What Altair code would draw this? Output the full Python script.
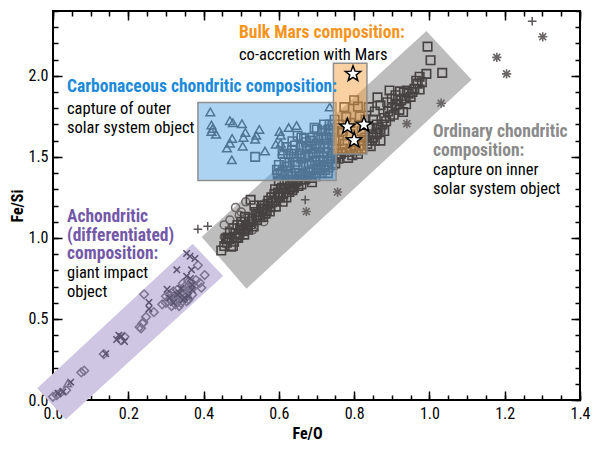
import math
import numpy as np
import pandas as pd
import altair as alt

FONT = "Liberation Sans Narrow, Arial Narrow, Roboto Condensed, DejaVu Sans Condensed, Liberation Sans, sans-serif"

# ---------------- data (Fe/O, Fe/Si) ----------------
ordinary_squares = [
    (0.447, 0.922), (0.473, 0.946), (0.460, 0.994), (0.481, 0.976), (0.488, 1.006), (0.470, 1.030),
    (0.495, 1.020), (0.500, 1.050), (0.506, 1.042), (0.480, 1.060), (0.515, 1.070), (0.520, 1.100),
    (0.525, 1.084), (0.530, 1.120), (0.500, 1.100), (0.510, 1.130), (0.540, 1.140), (0.551, 1.127),
    (0.545, 1.160), (0.560, 1.180), (0.525, 1.235), (0.535, 1.200), (0.490, 1.080), (0.465, 1.000),
    (0.576, 1.163), (0.592, 1.193), (0.610, 1.223), (0.636, 1.295), (0.644, 1.343), (0.688, 1.343),
    (0.628, 1.283), (0.570, 1.210), (0.580, 1.250), (0.600, 1.260), (0.620, 1.250), (0.605, 1.300),
    (0.590, 1.300), (0.565, 1.150), (0.555, 1.200), (0.640, 1.310), (0.660, 1.330), (0.670, 1.360),
    (0.655, 1.380), (0.630, 1.350), (0.615, 1.330), (0.600, 1.350), (0.680, 1.380), (0.700, 1.400),
    (0.710, 1.420), (0.645, 1.400), (0.625, 1.395),
    (0.455, 0.950), (0.462, 0.970), (0.468, 0.990), (0.475, 1.000), (0.478, 0.950), (0.485, 1.030),
    (0.492, 1.000), (0.497, 1.060), (0.503, 1.080), (0.508, 1.020), (0.512, 1.060), (0.518, 1.050),
    (0.522, 1.120), (0.528, 1.100), (0.533, 1.070), (0.538, 1.160), (0.542, 1.110), (0.548, 1.140),
    (0.553, 1.180), (0.558, 1.130), (0.563, 1.200), (0.568, 1.170), (0.572, 1.230), (0.578, 1.190),
    (0.583, 1.220), (0.588, 1.270), (0.593, 1.230), (0.597, 1.280), (0.603, 1.250), (0.608, 1.310),
    (0.612, 1.270), (0.618, 1.300), (0.623, 1.330), (0.627, 1.300), (0.633, 1.320), (0.638, 1.360),
    (0.648, 1.350), (0.652, 1.320), (0.658, 1.360), (0.663, 1.390), (0.672, 1.380), (0.678, 1.410),
    (0.685, 1.370), (0.692, 1.420), (0.697, 1.380), (0.703, 1.430), (0.712, 1.450), (0.717, 1.470),
    (0.723, 1.420), (0.728, 1.470), (0.738, 1.490), (0.742, 1.450), (0.752, 1.500),
    (0.636, 1.596), (0.643, 1.570), (0.610, 1.518), (0.628, 1.464), (0.605, 1.398), (0.654, 1.398),
    (0.683, 1.404), (0.696, 1.476), (0.670, 1.506), (0.706, 1.524), (0.719, 1.608), (0.732, 1.669),
    (0.748, 1.729), (0.701, 1.669), (0.667, 1.614), (0.683, 1.566), (0.722, 1.554), (0.740, 1.506),
    (0.597, 1.390), (0.636, 1.380), (0.732, 1.434), (0.714, 1.400), (0.650, 1.450), (0.660, 1.490),
    (0.680, 1.460), (0.690, 1.520), (0.700, 1.580), (0.710, 1.480), (0.720, 1.500), (0.730, 1.580),
    (0.740, 1.620), (0.745, 1.660), (0.735, 1.700), (0.690, 1.620), (0.675, 1.550), (0.660, 1.560),
    (0.640, 1.500), (0.620, 1.440), (0.600, 1.450), (0.650, 1.630), (0.720, 1.440), (0.750, 1.460),
    (0.730, 1.400), (0.705, 1.450), (0.537, 1.500),
    (0.615, 1.470), (0.625, 1.520), (0.635, 1.540), (0.645, 1.470), (0.655, 1.520), (0.665, 1.450),
    (0.672, 1.590), (0.678, 1.500), (0.685, 1.600), (0.695, 1.550), (0.705, 1.620), (0.710, 1.560),
    (0.715, 1.660), (0.725, 1.620), (0.728, 1.530), (0.735, 1.640), (0.742, 1.570), (0.748, 1.600),
    (0.695, 1.680), (0.720, 1.700), (0.660, 1.620), (0.620, 1.560), (0.595, 1.420), (0.610, 1.410),
    (0.774, 1.807), (0.800, 1.849), (0.779, 1.747), (0.815, 1.750), (0.810, 1.810), (0.770, 1.660),
    (0.760, 1.600), (0.790, 1.640), (0.820, 1.660), (0.770, 1.550), (0.758, 1.488), (0.784, 1.494),
    (0.810, 1.518), (0.800, 1.570), (0.825, 1.600), (0.760, 1.700), (0.790, 1.710), (0.830, 1.730),
    (0.755, 1.520), (0.775, 1.580), (0.765, 1.520), (0.780, 1.530), (0.790, 1.550), (0.795, 1.510),
    (0.805, 1.540), (0.815, 1.570), (0.820, 1.550),
    (0.844, 1.566), (0.870, 1.669), (0.839, 1.807), (0.862, 1.867), (0.870, 1.819), (0.888, 1.837),
    (0.894, 1.910), (0.914, 1.825), (0.938, 1.825), (0.930, 1.777), (0.917, 1.855), (0.932, 1.898),
    (0.940, 1.910), (0.922, 1.904), (0.969, 1.952), (0.974, 1.994), (0.974, 1.916), (0.992, 2.012),
    (1.034, 2.018), (1.003, 2.096), (0.995, 2.180), (0.850, 1.620), (0.860, 1.700), (0.850, 1.730),
    (0.840, 1.680), (0.880, 1.740), (0.890, 1.780), (0.870, 1.600), (0.855, 1.780), (0.900, 1.860),
    (0.950, 1.870), (0.960, 1.920), (0.910, 1.880), (0.860, 1.650), (0.845, 1.640), (0.835, 1.580),
    (0.830, 1.620), (0.840, 1.600), (0.855, 1.600), (0.860, 1.640), (0.865, 1.680), (0.875, 1.700),
    (0.880, 1.660), (0.885, 1.720), (0.895, 1.750), (0.900, 1.800), (0.905, 1.760), (0.910, 1.820),
    (0.920, 1.790), (0.925, 1.850), (0.935, 1.860), (0.945, 1.890), (0.955, 1.900), (0.965, 1.970),
    (0.980, 1.960),
]
ordinary_circles = [
    (0.485, 1.187), (0.512, 1.223), (0.500, 1.160), (0.470, 1.110), (0.455, 1.080), (0.455, 1.006),
    (0.530, 1.050), (0.560, 1.100), (0.495, 1.140),
]
carbonaceous_triangles = [
    (0.418, 1.777), (0.421, 1.697), (0.424, 1.675), (0.421, 1.657), (0.433, 1.639), (0.470, 1.723),
    (0.478, 1.711), (0.502, 1.705), (0.511, 1.651), (0.506, 1.620), (0.548, 1.669), (0.540, 1.633),
    (0.537, 1.608), (0.476, 1.614), (0.470, 1.584), (0.462, 1.554), (0.504, 1.566), (0.475, 1.482),
    (0.563, 1.536), (0.602, 1.657), (0.605, 1.633), (0.626, 1.681), (0.647, 1.693), (0.592, 1.578),
    (0.605, 1.584), (0.735, 1.807), (0.610, 1.536),
]
achondrite_crosses = [
    (0.355, 0.904), (0.364, 0.887), (0.377, 0.873), (0.368, 0.803), (0.355, 0.764), (0.329, 0.803),
    (0.303, 0.683), (0.255, 0.602), (0.255, 0.562), (0.169, 0.373), (0.182, 0.392), (0.190, 0.361),
    (0.175, 0.400), (0.047, 0.110), (0.013, 0.042), (0.026, 0.050), (0.330, 0.650), (0.345, 0.620),
    (0.360, 0.640), (0.320, 0.600), (0.370, 0.680), (0.340, 0.690), (0.365, 0.750), (0.140, 0.285),
    (0.335, 0.660), (0.350, 0.630), (0.310, 0.630), (0.370, 0.710),
]
achondrite_diamonds = [
    (0.385, 0.831), (0.403, 0.771), (0.390, 0.723), (0.394, 0.693), (0.242, 0.652), (0.247, 0.512),
    (0.268, 0.542), (0.238, 0.472), (0.234, 0.442), (0.135, 0.283), (0.083, 0.181), (0.075, 0.170),
    (0.000, 0.020), (0.010, 0.030), (0.020, 0.045), (0.035, 0.060), (0.310, 0.620), (0.320, 0.640),
    (0.330, 0.600), (0.340, 0.630), (0.350, 0.660), (0.360, 0.700), (0.370, 0.720), (0.300, 0.600),
    (0.315, 0.580), (0.335, 0.580), (0.355, 0.610), (0.350, 0.700), (0.320, 0.670), (0.290, 0.590),
    (0.300, 0.640), (0.360, 0.620), (0.345, 0.720), (0.180, 0.370), (0.190, 0.390), (0.230, 0.450),
    (0.240, 0.480), (0.305, 0.610), (0.310, 0.650), (0.325, 0.620), (0.330, 0.680), (0.340, 0.600),
    (0.345, 0.650), (0.355, 0.640), (0.360, 0.670), (0.365, 0.690), (0.370, 0.650), (0.375, 0.700),
    (0.315, 0.660), (0.325, 0.590), (0.350, 0.680), (0.380, 0.740), (0.360, 0.730),
]
achondrite_triangles = [(0.039, 0.102)]
plus_points = [(0.385, 1.054), (0.411, 1.072), (0.468, 1.066), (0.670, 1.235), (1.273, 2.337)]
asterisk_points = [(0.756, 1.283), (0.673, 1.163), (0.940, 1.705), (1.031, 1.831), (1.179, 2.114),
                   (1.205, 2.012), (1.301, 2.241)]
mars_stars = [(0.797, 2.012), (0.782, 1.687), (0.826, 1.699), (0.800, 1.602)]

# composition regions
carb_box_x = [0.385, 0.752]
carb_box_y = [1.355, 1.835]
mars_box_x = [0.745, 0.834]
mars_box_y = [1.518, 2.078]
ordinary_corners = [(0.395, 1.006), (0.992, 2.277), (1.112, 1.976), (0.514, 0.687)]   # left, top, right, bottom
achondrite_corners = [(-0.042, 0.072), (0.371, 0.964), (0.452, 0.765), (0.034, -0.120)]

# axis ticks
x_major = [0.0, 0.2, 0.4, 0.6, 0.8, 1.0, 1.2, 1.4]
y_major = [0.0, 0.5, 1.0, 1.5, 2.0]
x_minor = [round(i * 0.05, 2) for i in range(29)]
y_minor = [round(i * 0.1, 1) for i in range(25)]

# annotation text
mars_head = ["Bulk Mars composition:"]
mars_body = ["co-accretion with Mars"]
carb_head = ["Carbonaceous chondritic composition:"]
carb_body = ["capture of outer", "solar system object"]
ord_head = ["Ordinary chondritic", "composition:"]
ord_body = ["capture on inner", "solar system object"]
ach_head = ["Achondritic", "(differentiated)", "composition:"]
ach_body = ["giant impact", "object"]

# ---------------- helpers ----------------
XS = alt.Scale(domain=[0, 1.4], nice=False, zero=False)
YS = alt.Scale(domain=[0, 2.4], nice=False, zero=False)


def df(pairs):
    return pd.DataFrame(pairs, columns=["x", "y"])


def enc(xaxis=None, yaxis=None):
    return dict(x=alt.X("x:Q", scale=XS, axis=xaxis), y=alt.Y("y:Q", scale=YS, axis=yaxis))


def polygon_df(corners):
    left, top, right, bottom = corners
    xs = sorted({left[0], top[0], right[0], bottom[0]})
    up_x = [left[0], top[0], right[0]]
    up_y = [left[1], top[1], right[1]]
    lo_x = [left[0], bottom[0], right[0]]
    lo_y = [left[1], bottom[1], right[1]]
    return pd.DataFrame({"x": xs,
                         "lo": np.interp(xs, lo_x, lo_y),
                         "hi": np.interp(xs, up_x, up_y)})


def area(corners, color, opacity=1.0):
    return alt.Chart(polygon_df(corners)).mark_area(color=color, opacity=opacity, clip=False).encode(
        x=alt.X("x:Q", scale=XS, axis=None),
        y=alt.Y("lo:Q", scale=YS, axis=None),
        y2="hi:Q",
    )


def box(bx, by, fill, opacity):
    d = pd.DataFrame({"x": [bx[0]], "x2": [bx[1]], "y": [by[0]], "y2": [by[1]]})
    return alt.Chart(d).mark_rect(fill=fill, fillOpacity=opacity, stroke="#8f8f8f", strokeWidth=1.5).encode(
        x=alt.X("x:Q", scale=XS, axis=None), x2="x2:Q",
        y=alt.Y("y:Q", scale=YS, axis=None), y2="y2:Q",
    )


def symbols(pairs, shape, color, size, sw=1.5):
    return alt.Chart(df(pairs)).mark_point(shape=shape, filled=False, color=color, size=size,
                                           strokeWidth=sw, opacity=1, clip=False).encode(**enc())


star_pts = []
for i in range(10):
    r = 1.0 if i % 2 == 0 else 0.42
    a = -math.pi / 2 + i * math.pi / 5
    star_pts.append(f"{r * math.cos(a):.3f},{r * math.sin(a):.3f}")
STAR = "M" + "L".join(star_pts) + "Z"
PLUS = "M-1,0L1,0M0,-1L0,1"
XMARK = "M-0.8,-0.8L0.8,0.8M-0.8,0.8L0.8,-0.8"
ASTER = "M-1,0L1,0M0,-1L0,1M-0.75,-0.75L0.75,0.75M-0.75,0.75L0.75,-0.75"

one = pd.DataFrame({"k": [0]})


def text(lines, px, py, color, bold):
    return alt.Chart(one).mark_text(text=lines, align="left", baseline="alphabetic", font=FONT,
                                    fontSize=17.5 if bold else 16.5,
                                    fontWeight="bold" if bold else "normal",
                                    color=color, lineHeight=18.5).encode(x=alt.value(px), y=alt.value(py))


common = dict(domain=False, grid=False, tickColor="black", tickWidth=1.5, labelFont=FONT,
              labelFontSize=16, labelColor="black", titleFont=FONT, titleFontSize=16,
              titleFontWeight="bold", titleColor="black")

ax_bottom = alt.Axis(orient="bottom", values=x_major, format=".1f", tickSize=9, offset=-9,
                     labelPadding=5, labelFlush=False, title="Fe/O", titlePadding=4, titleX=254, **common)
ax_left = alt.Axis(orient="left", values=y_major, format=".1f", tickSize=9, offset=-9,
                   labelPadding=5, title="Fe/Si", titlePadding=2, **common)
ax_bottom_minor = alt.Axis(orient="bottom", values=x_minor, tickSize=5, offset=-5, labels=False, title=None, **common)
ax_left_minor = alt.Axis(orient="left", values=y_minor, tickSize=5, offset=-5, labels=False, title=None, **common)
ax_top = alt.Axis(orient="top", values=x_major, tickSize=9, offset=-9, labels=False, title=None, **common)
ax_right = alt.Axis(orient="right", values=y_major, tickSize=9, offset=-9, labels=False, title=None, **common)
ax_top_minor = alt.Axis(orient="top", values=x_minor, tickSize=5, offset=-5, labels=False, title=None, **common)
ax_right_minor = alt.Axis(orient="right", values=y_minor, tickSize=5, offset=-5, labels=False, title=None, **common)


def axis_layer(xa, ya):
    return alt.Chart(df(mars_stars)).mark_point(opacity=0).encode(**enc(xa, ya))


DARK = "#474242"
MID = "#6a6464"
ACH = "#5a536e"
ACH_L = "#7a7390"

layers = [
    area(ordinary_corners, "#bdbdbd"),
    area(achondrite_corners, "#cfc6e4"),
    symbols(achondrite_diamonds, "diamond", ACH_L, 75),
    symbols(achondrite_crosses, XMARK, ACH, 65),
    symbols(achondrite_triangles, "triangle-up", ACH_L, 60),
    symbols(ordinary_circles, "circle", MID, 65),
    symbols(ordinary_squares, "square", DARK, 72, 1.6),
    symbols(carbonaceous_triangles, "triangle-up", DARK, 75),
    symbols(plus_points, PLUS, "#5a5555", 75),
    symbols(asterisk_points, ASTER, "#6a6666", 85, 1.6),
    box(carb_box_x, carb_box_y, "#5aa8e6", 0.5),
    box(mars_box_x, mars_box_y, "#f6a445", 0.5),
    alt.Chart(df(mars_stars)).mark_point(shape=STAR, filled=True, fill="white", stroke="black",
                                         strokeWidth=1.5, size=260, opacity=1).encode(**enc()),
    text(mars_head, 186, 27, "#f7941d", True),
    text(mars_body, 186, 49, "black", False),
    text(carb_head, 14, 81, "#1b8ad9", True),
    text(carb_body, 14, 103, "black", False),
    text(ord_head, 380, 126, "#8a8a8a", True),
    text(ord_body, 380, 164, "black", False),
    text(ach_head, 14, 211, "#7358a8", True),
    text(ach_body, 14, 267, "black", False),
    axis_layer(ax_bottom, ax_left),
    axis_layer(ax_bottom_minor, ax_left_minor),
    axis_layer(ax_top, ax_right),
    axis_layer(ax_top_minor, ax_right_minor),
]

chart = alt.layer(*layers).resolve_axis(x="independent", y="independent").properties(
    width=527, height=389,
    autosize=alt.AutoSizeParams(type="none"),
    padding={"left": 45, "top": 3, "right": 11, "bottom": 48},
).configure_view(stroke="black", strokeWidth=2)

chart.save("out.html", embed_options={"renderer": "svg", "actions": False})
